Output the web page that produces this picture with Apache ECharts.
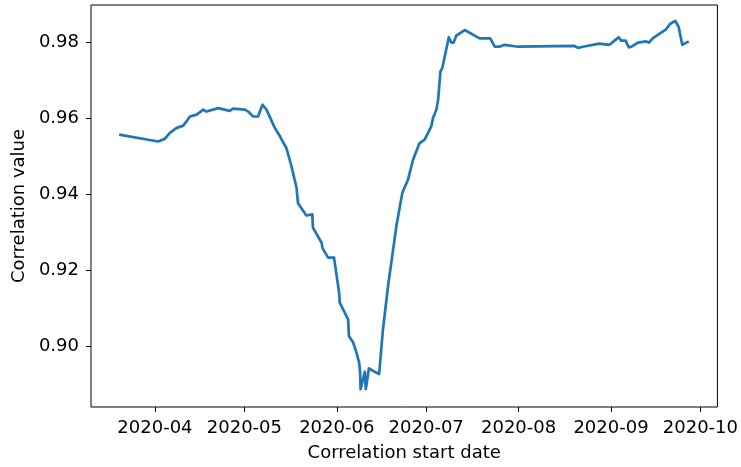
<!DOCTYPE html>
<html>
<head>
<meta charset="utf-8">
<script src="https://cdn.jsdelivr.net/npm/echarts@6/dist/echarts.min.js"></script>
<style>
  html, body { margin: 0; padding: 0; background: #fff; }
  #chart { width: 741px; height: 467px; }
</style>
</head>
<body>
<div id="chart"></div>
<script>
// Start date of each correlation window (UTC)
const startDates = [
  '2020-03-20 00:00', '2020-04-02 02:00', '2020-04-04 07:00', '2020-04-06 00:00',
  '2020-04-08 07:00', '2020-04-10 12:00', '2020-04-11 14:00', '2020-04-12 17:00',
  '2020-04-15 00:00', '2020-04-17 05:00', '2020-04-18 07:00', '2020-04-22 05:00',
  '2020-04-26 02:00', '2020-04-27 05:00', '2020-05-01 05:00', '2020-05-02 07:00',
  '2020-05-03 22:00', '2020-05-05 14:00', '2020-05-07 02:00', '2020-05-08 10:00',
  '2020-05-11 05:00', '2020-05-12 22:00', '2020-05-13 12:00', '2020-05-15 02:00',
  '2020-05-16 19:00', '2020-05-18 12:00', '2020-05-19 00:00', '2020-05-21 19:00',
  '2020-05-23 19:00', '2020-05-24 00:00', '2020-05-26 22:00', '2020-05-27 05:00',
  '2020-05-29 02:00', '2020-05-31 02:00', '2020-06-01 19:00', '2020-06-02 00:00',
  '2020-06-04 19:00', '2020-06-05 02:00', '2020-06-06 12:00', '2020-06-07 14:00',
  '2020-06-08 12:00', '2020-06-08 20:00', '2020-06-09 00:00', '2020-06-10 10:00',
  '2020-06-10 18:00', '2020-06-11 19:00', '2020-06-13 05:00', '2020-06-15 05:00',
  '2020-06-16 12:00', '2020-06-18 05:00', '2020-06-21 00:00', '2020-06-23 00:00',
  '2020-06-24 22:00', '2020-06-26 14:00', '2020-06-28 19:00', '2020-06-30 12:00',
  '2020-07-02 17:00', '2020-07-03 07:00', '2020-07-04 10:00', '2020-07-05 00:00',
  '2020-07-05 19:00', '2020-07-06 10:00', '2020-07-08 14:00', '2020-07-09 10:00',
  '2020-07-10 05:00', '2020-07-11 02:00', '2020-07-13 22:00', '2020-07-18 22:00',
  '2020-07-22 12:00', '2020-07-24 00:00', '2020-07-25 14:00', '2020-07-27 07:00',
  '2020-07-31 19:00', '2020-08-19 19:00', '2020-08-20 22:00', '2020-08-22 14:00',
  '2020-08-28 02:00', '2020-08-31 12:00', '2020-09-02 12:00', '2020-09-03 14:00',
  '2020-09-04 10:00', '2020-09-05 22:00', '2020-09-07 00:00', '2020-09-08 07:00',
  '2020-09-10 00:00', '2020-09-12 19:00', '2020-09-13 17:00', '2020-09-15 00:00',
  '2020-09-17 05:00', '2020-09-19 12:00', '2020-09-20 19:00', '2020-09-22 14:00',
  '2020-09-23 17:00', '2020-09-24 22:00', '2020-09-27 02:00'
];

// Correlation value for each window
const correlationValues = [
  0.9557, 0.9539, 0.9546, 0.9562,
  0.9575, 0.9581, 0.9592, 0.9605,
  0.9610, 0.9623, 0.9618, 0.9627,
  0.9620, 0.9626, 0.9623, 0.9618,
  0.9605, 0.9605, 0.9636, 0.9623,
  0.9575, 0.9553, 0.9544, 0.9522,
  0.9474, 0.9417, 0.9376, 0.9344,
  0.9347, 0.9312, 0.9272, 0.9258,
  0.9233, 0.9233, 0.9140, 0.9114,
  0.9070, 0.9026, 0.9009, 0.8983,
  0.8956, 0.8930, 0.8886, 0.8932,
  0.8886, 0.8941, 0.8934, 0.8926,
  0.9044, 0.9158, 0.9316, 0.9404,
  0.9439, 0.9491, 0.9535, 0.9544,
  0.9579, 0.9601, 0.9623, 0.9649,
  0.9724, 0.9733, 0.9814, 0.9800,
  0.9800, 0.9818, 0.9833, 0.9811,
  0.9811, 0.9789, 0.9789, 0.9794,
  0.9789, 0.9791, 0.9786, 0.9789,
  0.9797, 0.9794, 0.9807, 0.9814,
  0.9805, 0.9805, 0.9787, 0.9791,
  0.9800, 0.9803, 0.9800, 0.9811,
  0.9823, 0.9835, 0.9849, 0.9857,
  0.9841, 0.9794, 0.9803
];

// Axis ticks and extents
const monthTicks = ['2020-04-01', '2020-05-01', '2020-06-01', '2020-07-01', '2020-08-01', '2020-09-01', '2020-10-01'];
const valueTicks = [0.90, 0.92, 0.94, 0.96, 0.98];
const dateRange = ['2020-03-10 13:00', '2020-10-06 17:00'];
const valueRange = [0.8839, 0.9899];

// Dates are placed on a linear millisecond axis (UTC)
function toUTC(s) {
  return Date.parse((s.length === 10 ? s + ' 00:00' : s).replace(' ', 'T') + ':00Z');
}
function pad2(n) { return (n < 10 ? '0' : '') + n; }

const seriesData = startDates.map((d, i) => [toUTC(d), correlationValues[i]]);
const monthTickValues = monthTicks.map(toUTC);

const FONT = 'DejaVu Sans';
const chart = echarts.init(document.getElementById('chart'), null, { renderer: 'canvas' });

chart.setOption({
  animation: false,
  backgroundColor: '#ffffff',
  textStyle: { fontFamily: FONT },
  grid: {
    left: 91, right: 23, top: 5, bottom: 59,
    show: true, borderColor: '#000000', borderWidth: 1, backgroundColor: '#ffffff'
  },
  xAxis: {
    type: 'value',
    min: toUTC(dateRange[0]),
    max: toUTC(dateRange[1]),
    name: 'Correlation start date',
    nameLocation: 'middle',
    nameGap: 37,
    nameTextStyle: { fontFamily: FONT, fontSize: 18, color: '#000' },
    axisLine: { show: false },
    splitLine: { show: false },
    axisTick: {
      show: true, inside: false, length: 5,
      lineStyle: { color: '#000', width: 1 },
      customValues: monthTickValues
    },
    axisLabel: {
      fontFamily: FONT, fontSize: 18, color: '#000', margin: 12,
      customValues: monthTickValues,
      formatter: function (v) {
        const d = new Date(v);
        return d.getUTCFullYear() + '-' + pad2(d.getUTCMonth() + 1);
      }
    }
  },
  yAxis: {
    type: 'value',
    min: valueRange[0],
    max: valueRange[1],
    name: 'Correlation value',
    nameLocation: 'middle',
    nameGap: 62,
    nameTextStyle: { fontFamily: FONT, fontSize: 18, color: '#000' },
    axisLine: { show: false },
    splitLine: { show: false },
    axisTick: {
      show: true, inside: false, length: 5,
      lineStyle: { color: '#000', width: 1 },
      customValues: valueTicks
    },
    axisLabel: {
      fontFamily: FONT, fontSize: 18, color: '#000', margin: 12,
      customValues: valueTicks,
      formatter: function (v) { return v.toFixed(2); }
    }
  },
  series: [{
    type: 'line',
    data: seriesData,
    showSymbol: false,
    symbol: 'none',
    lineStyle: { color: '#1f77b4', width: 2.7, join: 'round', cap: 'butt' },
    emphasis: { disabled: true }
  }]
});
</script>
</body>
</html>
